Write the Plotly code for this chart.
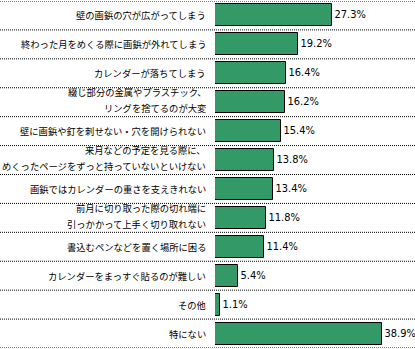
import plotly.graph_objects as go

categories = [
    "壁の画鋲の穴が広がってしまう",
    "終わった月をめくる際に画鋲が外れてしまう",
    "カレンダーが落ちてしまう",
    "綴じ部分の金属やプラスチック、\nリングを捨てるのが大変",
    "壁に画鋲や釘を刺せない・穴を開けられない",
    "来月などの予定を見る際に、\nめくったページをずっと持っていないといけない",
    "画鋲ではカレンダーの重さを支えきれない",
    "前月に切り取った際の切れ端に\n引っかかって上手く切り取れない",
    "書込むペンなどを置く場所に困る",
    "カレンダーをまっすぐ貼るのが難しい",
    "その他",
    "特にない",
]
values = [27.3, 19.2, 16.4, 16.2, 15.4, 13.8, 13.4, 11.8, 11.4, 5.4, 1.1, 38.9]
value_labels = [f"{v:.1f}%" for v in values]

W, H = 415, 349
L = 215
plot_w = W - L
px_per_pct = 4.3
x_max = plot_w / px_per_pct

ypos = list(range(len(categories)))

fig = go.Figure()
fig.add_trace(go.Bar(
    x=values,
    y=ypos,
    orientation="h",
    width=0.76,
    marker=dict(color="#339966", line=dict(color="#000000", width=1)),
    text=value_labels,
    textposition="outside",
    textfont=dict(family="Liberation Sans Narrow, DejaVu Sans Condensed, Liberation Sans", size=11, color="#000000"),
    constraintext="none",
    cliponaxis=False,
    hoverinfo="skip",
))

shapes = []
for i in range(len(categories) + 1):
    b = i - 0.5
    shapes.append(dict(
        type="line", xref="paper", yref="y",
        x0=-L / plot_w, x1=1.0, y0=b, y1=b,
        line=dict(color="#000000", width=1, dash="1px,1px"),
        layer="below",
    ))

annotations = []
line_shifts = [10, -6]
for i, c in enumerate(categories):
    lines = c.split("\n")
    n = len(lines)
    for k, ln in enumerate(lines):
        shift = line_shifts[k] if n > 1 else 0
        annotations.append(dict(
            x=-(L - 207) / plot_w, xref="paper", y=i, yref="y",
            yshift=shift,
            text=ln, showarrow=False, xanchor="right", yanchor="middle",
            align="right", borderpad=0,
            font=dict(family="Noto Sans CJK JP", size=9.3, color="#000000"),
        ))

fig.update_layout(
    width=W, height=H,
    margin=dict(l=L, r=0, t=1, b=1),
    paper_bgcolor="#ffffff",
    plot_bgcolor="#ffffff",
    showlegend=False,
    bargap=0,
    shapes=shapes,
    annotations=annotations,
    xaxis=dict(range=[0, x_max], visible=False, fixedrange=True),
    yaxis=dict(range=[len(categories) - 0.5, -0.5], visible=False, fixedrange=True),
)

fig.write_html("out.html")
